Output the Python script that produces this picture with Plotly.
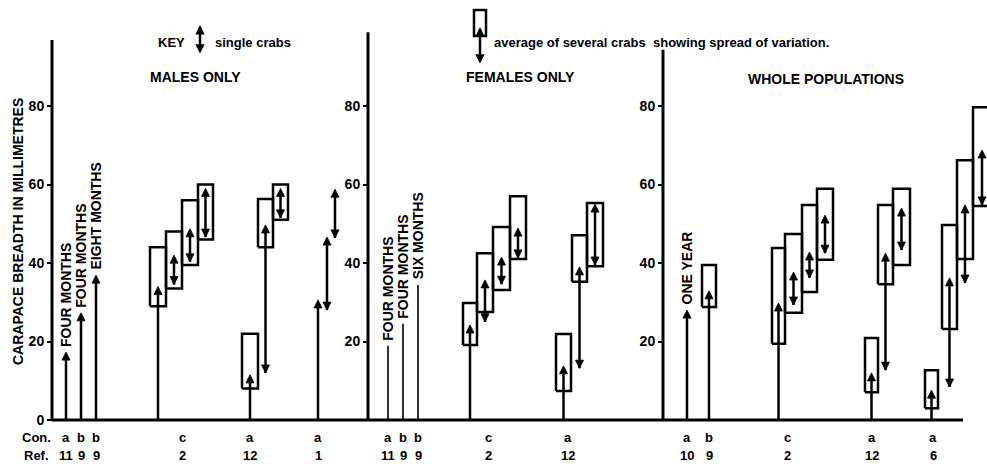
import plotly.graph_objects as go

W, H = 987, 464
INK = "black"
FONT = "Liberation Sans"

# ------------------------------------------------------------------
# DATA  (carapace breadth in millimetres)
# ------------------------------------------------------------------
Y_TICKS_LEFT = [0, 20, 40, 60, 80]
Y_TICKS_OTHER = [20, 40, 60, 80]

# single labelled observations (tip value of the line / arrow)
MALE_SINGLE_TIPS = [17.3, 27.3, 36.9]
MALE_SINGLE_LABELS = ["FOUR MONTHS", "FOUR MONTHS", "EIGHT MONTHS"]
FEMALE_SINGLE_TIPS = [18.9, 24.5, 34.4]
FEMALE_SINGLE_LABELS = ["FOUR MONTHS", "FOUR MONTHS", "SIX MONTHS"]
WHOLE_SINGLE_TIPS = [28.0]
WHOLE_SINGLE_LABELS = ["ONE YEAR"]

# Males only, con. c / ref. 2
MALE_C_BOX_LO = [29.0, 33.5, 39.5, 46.0]
MALE_C_BOX_HI = [44.0, 48.0, 56.0, 60.0]
MALE_C_ARR_LO = [0.0, 34.5, 40.3, 46.6]
MALE_C_ARR_HI = [34.0, 42.0, 48.7, 59.0]
# Males only, con. a / ref. 12
MALE_A12_BOX_LO = [8.0, 44.0, 51.0]
MALE_A12_BOX_HI = [22.0, 56.3, 60.0]
MALE_A12_ARR_LO = [0.0, 12.0, 51.5]
MALE_A12_ARR_HI = [11.5, 49.7, 59.0]
# Males only, con. a / ref. 1 (single crabs only)
MALE_A1_ARR_LO = [0.0, 28.0, 46.4]
MALE_A1_ARR_HI = [30.6, 46.6, 58.8]

# Females only, con. c / ref. 2
FEMALE_C_BOX_LO = [19.1, 27.5, 33.1, 41.0]
FEMALE_C_BOX_HI = [29.8, 42.5, 49.2, 57.0]
FEMALE_C_ARR_LO = [0.0, 25.0, 34.6, 41.3]
FEMALE_C_ARR_HI = [24.2, 35.7, 41.5, 48.9]
# Females only, con. a / ref. 12
FEMALE_A12_BOX_LO = [7.4, 35.2, 39.2]
FEMALE_A12_BOX_HI = [21.9, 47.1, 55.3]
FEMALE_A12_ARR_LO = [0.0, 13.2, 39.5]
FEMALE_A12_ARR_HI = [13.8, 39.0, 55.0]

# Whole populations, con. b / ref. 9
WHOLE_B9_BOX_LO = [28.8]
WHOLE_B9_BOX_HI = [39.5]
WHOLE_B9_ARR_LO = [0.0]
WHOLE_B9_ARR_HI = [32.9]
# Whole populations, con. c / ref. 2
WHOLE_C_BOX_LO = [19.4, 27.3, 32.6, 40.8]
WHOLE_C_BOX_HI = [43.8, 47.4, 54.8, 58.9]
WHOLE_C_ARR_LO = [0.0, 29.3, 36.2, 42.5]
WHOLE_C_ARR_HI = [29.8, 37.7, 42.8, 52.2]
# Whole populations, con. a / ref. 12
WHOLE_A12_BOX_LO = [7.1, 34.6, 39.5]
WHOLE_A12_BOX_HI = [20.9, 54.8, 58.9]
WHOLE_A12_ARR_LO = [0.0, 12.7, 43.3]
WHOLE_A12_ARR_HI = [12.0, 42.5, 54.0]
# Whole populations, con. a / ref. 6
WHOLE_A6_BOX_LO = [3.0, 23.2, 41.0, 54.5]
WHOLE_A6_BOX_HI = [12.7, 49.7, 66.2, 79.7]
WHOLE_A6_ARR_LO = [0.0, 8.4, 34.9, 54.8]
WHOLE_A6_ARR_HI = [7.6, 36.2, 54.8, 68.8]

# bottom category labels
MALE_CON = ["a", "b", "b", "c", "a", "a"]
MALE_REF = ["11", "9", "9", "2", "12", "1"]
FEMALE_CON = ["a", "b", "b", "c", "a"]
FEMALE_REF = ["11", "9", "9", "2", "12"]
WHOLE_CON = ["a", "b", "c", "a", "a"]
WHOLE_REF = ["10", "9", "2", "12", "6"]

# ------------------------------------------------------------------
# LAYOUT (horizontal slots, in the x-axis' own units = 0..987)
# ------------------------------------------------------------------
MALE_SINGLE_X = [66, 81, 96]
FEMALE_SINGLE_X = [388, 403, 418]
WHOLE_SINGLE_X = [687]

MALE_C_L, MALE_C_R = [150, 166, 182, 198], [166, 182, 198, 213]
MALE_A12_L, MALE_A12_R = [242, 258, 273], [258, 273, 288]
MALE_A1_X = [318, 327, 335]
FEMALE_C_L, FEMALE_C_R = [463, 477, 493, 510], [477, 493, 510, 526]
FEMALE_A12_L, FEMALE_A12_R = [556, 572, 587], [571, 587, 603]
WHOLE_B9_L, WHOLE_B9_R = [702], [716]
WHOLE_C_L, WHOLE_C_R = [772, 785, 802, 817], [785, 802, 817, 833]
WHOLE_A12_L, WHOLE_A12_R = [865, 878, 893], [878, 893, 910]
WHOLE_A6_L, WHOLE_A6_R = [925, 942, 957, 973], [938, 957, 973, 991]

MALE_LABEL_X = [66, 81, 96, 182, 250, 318]
FEMALE_LABEL_X = [388, 403, 418, 488, 568]
WHOLE_LABEL_X = [687, 709, 787, 872, 933]

AXIS_X = [52, 368, 663]
AXIS_TOP = [96.8, 98.8, 94.3]
BASE_X = [52, 963]

# vertical mapping: 0 mm at pixel 420, 3.925 px per mm
Y0_PIX, PX_PER_MM = 420, 3.925
Y_MIN = -(H - Y0_PIX) / PX_PER_MM
Y_MAX = Y_MIN + H / PX_PER_MM
HEAD = 8
LW = 2.5
LABEL_GAP = 0.8
CON_Y = -(437 - Y0_PIX) / PX_PER_MM
REF_Y = -(455 - Y0_PIX) / PX_PER_MM

fig = go.Figure()


def arrow(x, lo, hi, ya):
    single = lo <= 0
    fig.add_trace(go.Scatter(
        x=[x, x], y=[lo, hi], yaxis=ya, mode="lines+markers",
        line=dict(color=INK, width=LW),
        marker=dict(symbol=["line-ew" if single else "arrow-down", "arrow-up"],
                    size=[0 if single else HEAD, HEAD], color=INK, opacity=1,
                    line=dict(width=0.8, color=INK)),
        opacity=1, hoverinfo="skip", showlegend=False))


def box(x0, x1, lo, hi, ya):
    fig.add_trace(go.Scatter(
        x=[x0, x1, x1, x0, x0], y=[lo, lo, hi, hi, lo], yaxis=ya, mode="lines",
        line=dict(color=INK, width=LW), hoverinfo="skip", showlegend=False))


def group(lefts, rights, blo, bhi, alo, ahi, ya):
    for x0, x1, lo, hi in zip(lefts, rights, blo, bhi):
        box(x0, x1, lo, hi, ya)
    for x0, x1, lo, hi in zip(lefts, rights, alo, ahi):
        arrow((x0 + x1) / 2, lo, hi, ya)


def rot_label(x, tip, text, ya):
    fig.add_annotation(x=x, y=tip + LABEL_GAP, xref="x", yref=ya, text="<b>%s</b>" % text,
                       textangle=-90, showarrow=False, xanchor="center", yanchor="bottom",
                       font=dict(family=FONT, size=14, color=INK))


# axes frame lines
for ax_x, top, ya in zip(AXIS_X, AXIS_TOP, ["y", "y2", "y3"]):
    fig.add_shape(type="line", x0=ax_x, x1=ax_x, y0=0, y1=top, xref="x", yref=ya,
                  line=dict(color=INK, width=3))
fig.add_shape(type="line", x0=BASE_X[0], x1=BASE_X[1], y0=0, y1=0, xref="x", yref="y",
              line=dict(color=INK, width=3))

# --- males ---
for x, t, lab in zip(MALE_SINGLE_X, MALE_SINGLE_TIPS, MALE_SINGLE_LABELS):
    arrow(x, 0, t, "y")
    rot_label(x, t, lab, "y")
group(MALE_C_L, MALE_C_R, MALE_C_BOX_LO, MALE_C_BOX_HI, MALE_C_ARR_LO, MALE_C_ARR_HI, "y")
group(MALE_A12_L, MALE_A12_R, MALE_A12_BOX_LO, MALE_A12_BOX_HI, MALE_A12_ARR_LO, MALE_A12_ARR_HI, "y")
for x, lo, hi in zip(MALE_A1_X, MALE_A1_ARR_LO, MALE_A1_ARR_HI):
    arrow(x, lo, hi, "y")

# --- females ---
for x, t, lab in zip(FEMALE_SINGLE_X, FEMALE_SINGLE_TIPS, FEMALE_SINGLE_LABELS):
    fig.add_trace(go.Scatter(x=[x, x], y=[0, t], yaxis="y2", mode="lines",
                             line=dict(color=INK, width=1.6), hoverinfo="skip", showlegend=False))
    rot_label(x, t, lab, "y2")
group(FEMALE_C_L, FEMALE_C_R, FEMALE_C_BOX_LO, FEMALE_C_BOX_HI, FEMALE_C_ARR_LO, FEMALE_C_ARR_HI, "y2")
group(FEMALE_A12_L, FEMALE_A12_R, FEMALE_A12_BOX_LO, FEMALE_A12_BOX_HI, FEMALE_A12_ARR_LO, FEMALE_A12_ARR_HI, "y2")

# --- whole populations ---
for x, t, lab in zip(WHOLE_SINGLE_X, WHOLE_SINGLE_TIPS, WHOLE_SINGLE_LABELS):
    arrow(x, 0, t, "y3")
    rot_label(x, t, lab, "y3")
group(WHOLE_B9_L, WHOLE_B9_R, WHOLE_B9_BOX_LO, WHOLE_B9_BOX_HI, WHOLE_B9_ARR_LO, WHOLE_B9_ARR_HI, "y3")
group(WHOLE_C_L, WHOLE_C_R, WHOLE_C_BOX_LO, WHOLE_C_BOX_HI, WHOLE_C_ARR_LO, WHOLE_C_ARR_HI, "y3")
group(WHOLE_A12_L, WHOLE_A12_R, WHOLE_A12_BOX_LO, WHOLE_A12_BOX_HI, WHOLE_A12_ARR_LO, WHOLE_A12_ARR_HI, "y3")
group(WHOLE_A6_L, WHOLE_A6_R, WHOLE_A6_BOX_LO, WHOLE_A6_BOX_HI, WHOLE_A6_ARR_LO, WHOLE_A6_ARR_HI, "y3")

# --- bottom category rows ---
small = dict(family=FONT, size=13, color=INK)
for xs, cons, refs in [(MALE_LABEL_X, MALE_CON, MALE_REF),
                       (FEMALE_LABEL_X, FEMALE_CON, FEMALE_REF),
                       (WHOLE_LABEL_X, WHOLE_CON, WHOLE_REF)]:
    for x, c, r in zip(xs, cons, refs):
        fig.add_annotation(x=x, y=CON_Y, xref="x", yref="y", text="<b>%s</b>" % c,
                           showarrow=False, font=small, xanchor="center", yanchor="middle")
        fig.add_annotation(x=x, y=REF_Y, xref="x", yref="y", text="<b>%s</b>" % r,
                           showarrow=False, font=small, xanchor="center", yanchor="middle")
fig.add_annotation(x=36, y=CON_Y, xref="x", yref="y", text="<b>Con.</b>", showarrow=False,
                   font=small, xanchor="center", yanchor="middle")
fig.add_annotation(x=36, y=REF_Y, xref="x", yref="y", text="<b>Ref.</b>", showarrow=False,
                   font=small, xanchor="center", yanchor="middle")


def px(x):
    return x / W


def py(y):
    return 1 - y / H


big = dict(family=FONT, size=14, color=INK)
# y title
fig.add_annotation(x=px(18), y=py(232), xref="paper", yref="paper",
                   text="<b>CARAPACE BREADTH IN MILLIMETRES</b>", textangle=-90,
                   showarrow=False, font=big, xanchor="center", yanchor="middle")
# panel titles
for cx, cy, t in [(195, 77, "MALES ONLY"), (520, 77, "FEMALES ONLY"), (826, 79, "WHOLE POPULATIONS")]:
    fig.add_annotation(x=px(cx), y=py(cy), xref="paper", yref="paper", text="<b>%s</b>" % t,
                       showarrow=False, font=big, xanchor="center", yanchor="middle")

# key
fig.add_annotation(x=px(171), y=py(42), xref="paper", yref="paper", text="<b>KEY</b>",
                   showarrow=False, font=small, xanchor="center", yanchor="middle")
fig.add_annotation(x=px(200), y=py(25), xref="paper", yref="paper", text="",
                   showarrow=True, ax=0, ay=30, arrowhead=2, arrowsize=0.75, arrowwidth=2.5,
                   arrowside="end+start", startarrowhead=2, startarrowsize=0.75, arrowcolor=INK)
fig.add_annotation(x=px(213), y=py(42), xref="paper", yref="paper", text="<b>single crabs</b>",
                   showarrow=False, xanchor="left", yanchor="middle", font=small)
fig.add_shape(type="rect", xref="paper", yref="paper", x0=px(474), x1=px(486),
              y0=py(36), y1=py(10), line=dict(color=INK, width=2.5))
fig.add_annotation(x=px(480), y=py(27), xref="paper", yref="paper", text="",
                   showarrow=True, ax=0, ay=38, arrowhead=2, arrowsize=0.75, arrowwidth=2.5,
                   arrowside="end+start", startarrowhead=2, startarrowsize=0.75, arrowcolor=INK)
fig.add_annotation(x=px(492), y=py(43), xref="paper", yref="paper",
                   text="<b>average of several crabs  showing spread of variation.</b>",
                   showarrow=False, xanchor="left", yanchor="middle", font=small)

yax_common = dict(range=[Y_MIN, Y_MAX], domain=[0, 1], anchor="free", showgrid=False,
                  zeroline=False, showline=False, ticks="outside", ticklen=5, tickwidth=2,
                  tickcolor=INK, fixedrange=True,
                  tickfont=dict(family=FONT, size=14, color=INK, weight="bold"))

fig.update_layout(
    width=W, height=H, margin=dict(l=0, r=0, t=0, b=0, pad=0),
    paper_bgcolor="white", plot_bgcolor="white", showlegend=False,
    xaxis=dict(range=[0, W], domain=[0, 1], visible=False, fixedrange=True),
    yaxis=dict(yax_common, position=px(AXIS_X[0]), tickvals=Y_TICKS_LEFT),
    yaxis2=dict(yax_common, overlaying="y", position=px(AXIS_X[1]), tickvals=Y_TICKS_OTHER),
    yaxis3=dict(yax_common, overlaying="y", position=px(AXIS_X[2]), tickvals=Y_TICKS_OTHER),
)

fig.write_html("out.html", config={"displayModeBar": False},
               post_script="document.body.style.margin='0';document.body.style.overflow='hidden';")
